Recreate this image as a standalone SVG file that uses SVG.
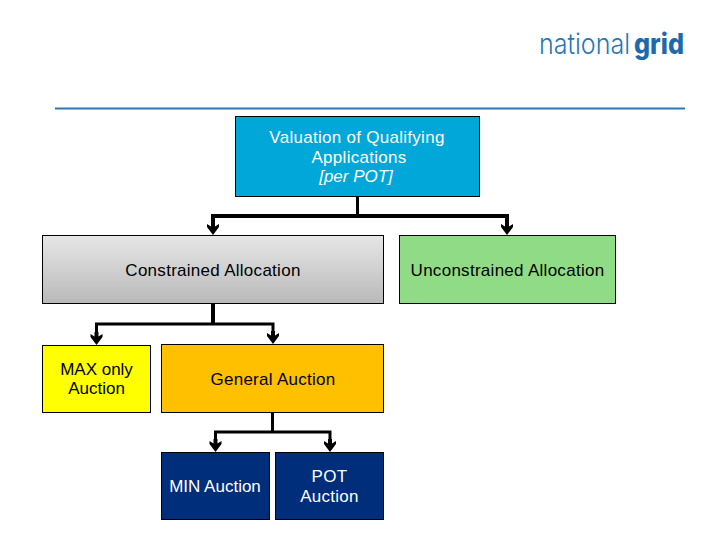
<svg xmlns="http://www.w3.org/2000/svg" width="720" height="540" viewBox="0 0 720 540">
<style>
text{font-family:"Liberation Sans",Arial,sans-serif;font-size:17px;letter-spacing:.28px;text-anchor:middle}
.box{stroke:#000;stroke-width:1}
.w{fill:#fff}.k{fill:#000}
.w4{fill:none;stroke:#000;stroke-width:4}
.w3{fill:none;stroke:#000;stroke-width:3}
.logo{font-family:Inter,"Liberation Sans",sans-serif;font-size:28px;letter-spacing:0;text-anchor:start}
</style>
<defs>
<linearGradient id="grey" x1="0" y1="0" x2="0" y2="1"><stop offset="0" stop-color="#e6e6e6"/><stop offset="1" stop-color="#b9b9b9"/></linearGradient>
<path id="head" d="M-6 -11L-2 -8.500V-13H2V-8.500L6 -11V-8L0 0L-6 -8Z" fill="#000"/>
</defs>
<rect width="720" height="540" fill="#fff"/>
<g id="logo">
<text x="539" y="54" class="logo" font-weight="300" fill="#2777b5" textLength="91" lengthAdjust="spacingAndGlyphs">national</text>
<text x="634" y="54" class="logo" font-weight="800" fill="#1d69ab" textLength="50" lengthAdjust="spacingAndGlyphs">grid</text>
</g>
<path id="rule" d="M55 108.500H685" stroke="#2e79b5" stroke-width="2" fill="none"/>
<g id="connectors">
<path class="w3" d="M357.500 196V216"/>
<path class="w4" d="M213 228V216H507V228"/>
<use href="#head" x="213" y="235"/><use href="#head" x="507" y="235"/>
<path class="w4" d="M213 303V324"/>
<path class="w3" d="M96.500 336V324H273V336"/>
<use href="#head" x="96.500" y="345"/><use href="#head" x="273" y="344"/>
<path class="w3" d="M272.500 412V432"/>
<path class="w3" d="M215.500 444V432H330V444"/>
<use href="#head" x="215.500" y="452"/><use href="#head" x="330" y="452"/>
</g>
<g id="valuation"><rect class="box" x="235.500" y="116.500" width="244" height="80" fill="#00a7d8"/>
<text class="w" x="357" y="143">Valuation of Qualifying</text><text class="w" x="359" y="163">Applications</text><text class="w" x="356" y="182" font-style="italic" style="letter-spacing:0">[per POT]</text></g>
<g id="constrained"><rect class="box" x="42.500" y="235.500" width="341" height="68" fill="url(#grey)"/>
<text class="k" x="213" y="275.500">Constrained Allocation</text></g>
<g id="unconstrained"><rect class="box" x="399.500" y="235.500" width="216" height="68" fill="#90dc86"/>
<text class="k" x="507.500" y="275.500">Unconstrained Allocation</text></g>
<g id="max"><rect class="box" x="42.500" y="345.500" width="108" height="67" fill="#ffff00"/>
<text class="k" x="96.500" y="375" style="letter-spacing:0">MAX only</text><text class="k" x="96.500" y="394" style="letter-spacing:0">Auction</text></g>
<g id="general"><rect class="box" x="161.500" y="344.500" width="222" height="68" fill="#ffc000"/>
<text class="k" x="273" y="384.500">General Auction</text></g>
<g id="min"><rect class="box" x="161.500" y="452.500" width="108" height="67" fill="#002e7a"/>
<text class="w" x="215" y="492" style="letter-spacing:0">MIN Auction</text></g>
<g id="pot"><rect class="box" x="275.500" y="452.500" width="108" height="67" fill="#002e7a"/>
<text class="w" x="329.500" y="482">POT</text><text class="w" x="329.500" y="502">Auction</text></g>
</svg>
